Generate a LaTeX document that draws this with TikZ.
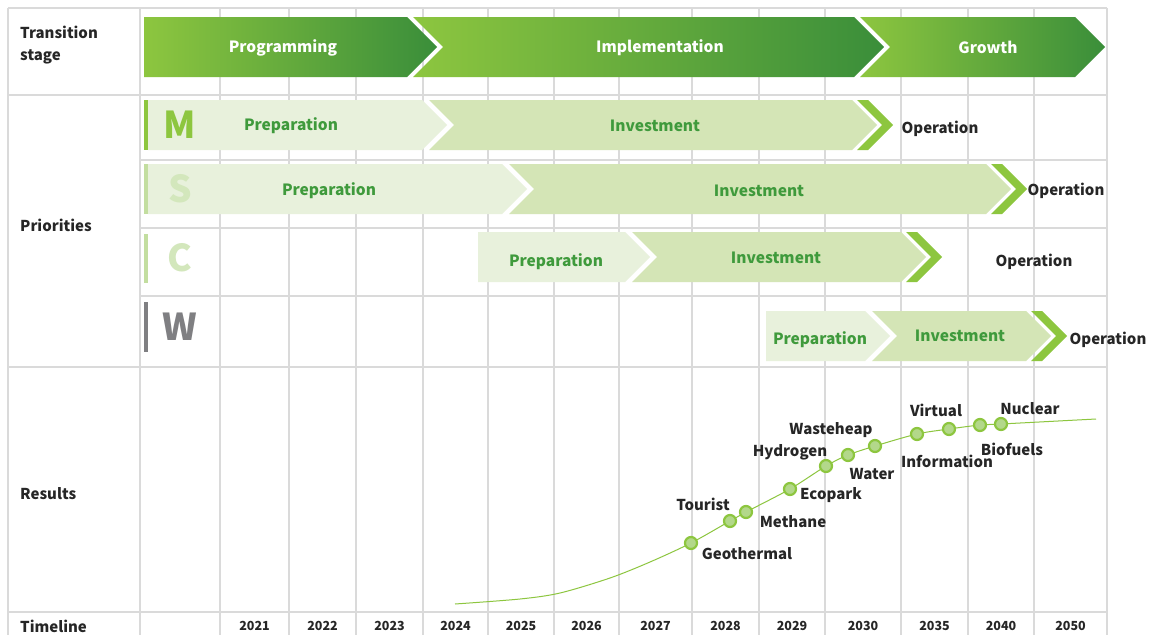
\documentclass[tikz,border=0pt]{standalone}
\usepackage{fontspec}
\setmainfont{Noto Sans CJK SC}
\usetikzlibrary{calc}

\definecolor{gLight}{HTML}{8DC63F}
\definecolor{gDark}{HTML}{3A8E3A}
\definecolor{prepFill}{HTML}{E8F1DC}
\definecolor{invFill}{HTML}{D4E5B6}
\definecolor{txtGreen}{HTML}{3F9A3C}
\definecolor{txtDark}{HTML}{262626}
\definecolor{gridCol}{HTML}{DADADA}
\definecolor{dotFill}{HTML}{B3D88A}
\definecolor{barS}{HTML}{C3DEA0}
\definecolor{letS}{HTML}{D3E7BC}
\definecolor{letW}{HTML}{7F7F82}

% one priority row: top y, preparation start, preparation end, investment end
\newcommand{\prow}[4]{%
  \fill[prepFill] (#2,#1) -- (#3,#1) -- ({#3+25},{#1+25}) -- (#3,{#1+50}) -- (#2,{#1+50}) -- cycle;
  \fill[invFill] ({#3+7},#1) -- (#4,#1) -- ({#4+25},{#1+25}) -- (#4,{#1+50}) -- ({#3+7},{#1+50}) -- ({#3+32},{#1+25}) -- cycle;
  \fill[gLight] ({#4+5},#1) -- ({#4+16},#1) -- ({#4+41},{#1+25}) -- ({#4+16},{#1+50}) -- ({#4+5},{#1+50}) -- ({#4+30},{#1+25}) -- cycle;
}

\tikzset{
  gridline/.style={draw=gridCol, line width=1.3pt},
  txtbase/.style={inner sep=0pt, yshift=-1.5pt},
  rowlbl/.style={txtbase, font=\bfseries\fontsize{15}{22}\selectfont, text=txtDark, anchor=west},
  stagetxt/.style={txtbase, font=\bfseries\fontsize{15.5}{18}\selectfont, text=white},
  phasetxt/.style={txtbase, font=\bfseries\fontsize{15.5}{18}\selectfont, text=txtGreen},
  optxt/.style={txtbase, font=\bfseries\fontsize{15}{18}\selectfont, text=txtDark},
  yeartxt/.style={txtbase, font=\bfseries\fontsize{12.5}{15}\selectfont, text=txtDark},
  bigletter/.style={inner sep=0pt, font=\bfseries\fontsize{37}{40}\selectfont},
  dot/.style={circle, fill=dotFill, draw=gLight, line width=2.2pt, minimum size=12pt, inner sep=0pt},
  restxt/.style={txtbase, font=\bfseries\fontsize{15}{18}\selectfont, text=txtDark},
}

\begin{document}
\begin{tikzpicture}[x=1pt,y=-1pt]
\useasboundingbox[fill=white] (0,0) rectangle (1154,635);

% ---- grid ----
\foreach \x in {8,140,220,289,356,423,488,554,619,692,759,825,901,968,1034,1107}
  \draw[gridline] (\x,8) -- (\x,635);
\foreach \y in {8,95,367,612}
  \draw[gridline] (8,\y) -- (1107,\y);
\foreach \y in {160,228,296}
  \draw[gridline] (140,\y) -- (1107,\y);

% ---- row headers ----
\node[rowlbl, anchor=north west, align=left, yshift=1.5pt] (hStage) at (20,26) {Transition\\stage};
\node[rowlbl] (hPrio) at (20,224) {Priorities};
\node[rowlbl] (hRes) at (20,492) {Results};
\node[rowlbl] (hTime) at (20,625) {Timeline};

% ---- transition stages ----
\shade[left color=gLight, right color=gDark] (144,17) -- (407,17) -- (437,47) -- (407,77) -- (144,77) -- cycle;
\shade[left color=gLight, right color=gDark] (413,17) -- (854,17) -- (884,47) -- (854,77) -- (413,77) -- (443,47) -- cycle;
\shade[left color=gLight, right color=gDark] (860,17) -- (1075,17) -- (1105,47) -- (1075,77) -- (860,77) -- (890,47) -- cycle;
\node[stagetxt] (sProg) at (283,46) {Programming};
\node[stagetxt] (sImpl) at (660,46) {Implementation};
\node[stagetxt] (sGrow) at (988,46) {Growth};

% ---- priority rows ----
\prow{100}{148}{422}{852}
\prow{164}{148}{502}{986}
\prow{232}{478}{625}{901}
\prow{311}{766}{865}{1026}

\fill[gLight] (144,100) rectangle (148,150);
\fill[barS] (144,164) rectangle (148,214);
\fill[barS] (144,234) rectangle (148,283);
\fill[letW] (144,302) rectangle (148,352);
\node[bigletter, text=gLight] (lM) at (180,125) {M};
\node[bigletter, text=letS] (lS) at (180,189) {S};
\node[bigletter, text=letS] (lC) at (180,258) {C};
\node[bigletter, text=letW] (lW) at (180,327) {W};

\node[phasetxt] (mPrep) at (291,124) {Preparation};
\node[phasetxt] (mInv) at (655,124) {Investment};
\node[optxt] (mOp) at (940,127) {Operation};
\node[phasetxt] (sPrep) at (329,189) {Preparation};
\node[phasetxt] (sInv) at (759,189) {Investment};
\node[optxt] (sOp) at (1066,189) {Operation};
\node[phasetxt] (cPrep) at (556,260) {Preparation};
\node[phasetxt] (cInv) at (776,256) {Investment};
\node[optxt] (cOp) at (1034,260) {Operation};
\node[phasetxt] (wPrep) at (820,338) {Preparation};
\node[phasetxt] (wInv) at (960,334) {Investment};
\node[optxt] (wOp) at (1108,338) {Operation};

% ---- results curve ----
\coordinate (c0) at (455,604);
\coordinate (c1) at (520,599);
\coordinate (c2) at (560,593);
\coordinate (c3) at (610,578);
\coordinate (c4) at (650,562);
\coordinate (cGeo) at (691,543);
\coordinate (cTour) at (730,521);
\coordinate (cMeth) at (746,512);
\coordinate (cEco) at (790,489);
\coordinate (cHyd) at (826,466);
\coordinate (cWaste) at (848,455);
\coordinate (cWater) at (875,446);
\coordinate (cInfo) at (917,434);
\coordinate (cVirt) at (949,429);
\coordinate (cBio) at (980,425);
\coordinate (cNuc) at (1001,424);
\coordinate (cEnd) at (1096,419);
\draw[gLight, line width=1pt] plot[smooth, tension=0.5] coordinates {(c0) (c1) (c2) (c3) (c4) (cGeo) (cTour) (cMeth) (cEco) (cHyd) (cWaste) (cWater) (cInfo) (cVirt) (cBio) (cNuc) (cEnd)};

\foreach \p in {Geo,Tour,Meth,Eco,Hyd,Waste,Water,Info,Virt,Bio,Nuc}
  \node[dot] (d\p) at (c\p) {};

\node[restxt] (tGeo) at (747,552) {Geothermal};
\node[restxt] (tTour) at (703,503) {Tourist};
\node[restxt] (tMeth) at (793,520) {Methane};
\node[restxt] (tEco) at (831,494) {Ecopark};
\node[restxt] (tHyd) at (790,451) {Hydrogen};
\node[restxt] (tWaste) at (831,429) {Wasteheap};
\node[restxt] (tWater) at (872,473) {Water};
\node[restxt] (tInfo) at (947,460) {Information};
\node[restxt] (tVirt) at (936,409) {Virtual};
\node[restxt] (tBio) at (1012,448) {Biofuels};
\node[restxt] (tNuc) at (1030,407) {Nuclear};

% ---- timeline ----
\foreach \yr/\cx in {2021/254.5,2022/322.5,2023/389.5,2024/455.5,2025/521,2026/586.5,2027/655.5,2028/725.5,2029/792,2030/863,2035/934.5,2040/1001,2050/1070.5}
  \node[yeartxt] (y\yr) at (\cx,624) {\yr};
\end{tikzpicture}
\end{document}
